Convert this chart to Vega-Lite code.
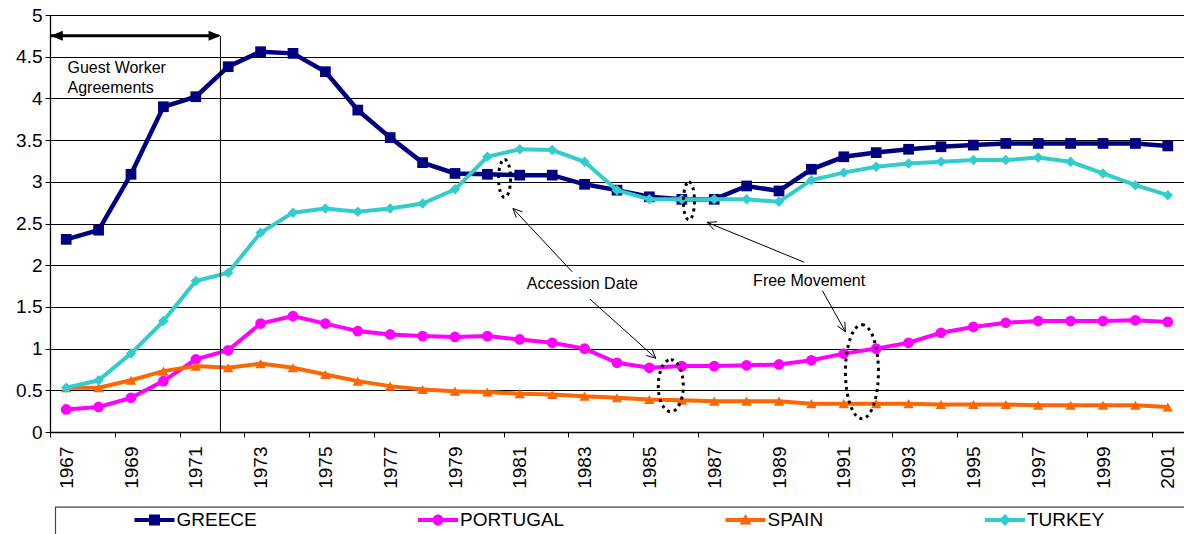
{
"$schema": "https://vega.github.io/schema/vega-lite/v6.json",
"width": 1134, "height": 417,
"autosize": {"type": "none"},
"padding": {"left": 50, "top": 15, "right": 0, "bottom": 102},
"background": "white",
"config": {"view": {"stroke": null}, "font": "Liberation Sans"},
"datasets": {
"series": [
{"country":"GREECE","year":1967,"value":2.31},{"country":"GREECE","year":1968,"value":2.42},{"country":"GREECE","year":1969,"value":3.09},{"country":"GREECE","year":1970,"value":3.90},{"country":"GREECE","year":1971,"value":4.02},{"country":"GREECE","year":1972,"value":4.38},{"country":"GREECE","year":1973,"value":4.56},{"country":"GREECE","year":1974,"value":4.54},{"country":"GREECE","year":1975,"value":4.32},{"country":"GREECE","year":1976,"value":3.86},{"country":"GREECE","year":1977,"value":3.53},{"country":"GREECE","year":1978,"value":3.23},{"country":"GREECE","year":1979,"value":3.10},{"country":"GREECE","year":1980,"value":3.09},{"country":"GREECE","year":1981,"value":3.08},{"country":"GREECE","year":1982,"value":3.08},{"country":"GREECE","year":1983,"value":2.97},{"country":"GREECE","year":1984,"value":2.90},{"country":"GREECE","year":1985,"value":2.82},{"country":"GREECE","year":1986,"value":2.79},{"country":"GREECE","year":1987,"value":2.79},{"country":"GREECE","year":1988,"value":2.95},{"country":"GREECE","year":1989,"value":2.89},{"country":"GREECE","year":1990,"value":3.15},{"country":"GREECE","year":1991,"value":3.30},{"country":"GREECE","year":1992,"value":3.35},{"country":"GREECE","year":1993,"value":3.39},{"country":"GREECE","year":1994,"value":3.42},{"country":"GREECE","year":1995,"value":3.44},{"country":"GREECE","year":1996,"value":3.46},{"country":"GREECE","year":1997,"value":3.46},{"country":"GREECE","year":1998,"value":3.46},{"country":"GREECE","year":1999,"value":3.46},{"country":"GREECE","year":2000,"value":3.46},{"country":"GREECE","year":2001,"value":3.43},
{"country":"PORTUGAL","year":1967,"value":0.27},{"country":"PORTUGAL","year":1968,"value":0.30},{"country":"PORTUGAL","year":1969,"value":0.41},{"country":"PORTUGAL","year":1970,"value":0.61},{"country":"PORTUGAL","year":1971,"value":0.87},{"country":"PORTUGAL","year":1972,"value":0.98},{"country":"PORTUGAL","year":1973,"value":1.30},{"country":"PORTUGAL","year":1974,"value":1.39},{"country":"PORTUGAL","year":1975,"value":1.30},{"country":"PORTUGAL","year":1976,"value":1.21},{"country":"PORTUGAL","year":1977,"value":1.17},{"country":"PORTUGAL","year":1978,"value":1.15},{"country":"PORTUGAL","year":1979,"value":1.14},{"country":"PORTUGAL","year":1980,"value":1.15},{"country":"PORTUGAL","year":1981,"value":1.11},{"country":"PORTUGAL","year":1982,"value":1.07},{"country":"PORTUGAL","year":1983,"value":1.00},{"country":"PORTUGAL","year":1984,"value":0.83},{"country":"PORTUGAL","year":1985,"value":0.77},{"country":"PORTUGAL","year":1986,"value":0.79},{"country":"PORTUGAL","year":1987,"value":0.79},{"country":"PORTUGAL","year":1988,"value":0.80},{"country":"PORTUGAL","year":1989,"value":0.81},{"country":"PORTUGAL","year":1990,"value":0.86},{"country":"PORTUGAL","year":1991,"value":0.94},{"country":"PORTUGAL","year":1992,"value":1.00},{"country":"PORTUGAL","year":1993,"value":1.07},{"country":"PORTUGAL","year":1994,"value":1.19},{"country":"PORTUGAL","year":1995,"value":1.26},{"country":"PORTUGAL","year":1996,"value":1.31},{"country":"PORTUGAL","year":1997,"value":1.33},{"country":"PORTUGAL","year":1998,"value":1.33},{"country":"PORTUGAL","year":1999,"value":1.33},{"country":"PORTUGAL","year":2000,"value":1.34},{"country":"PORTUGAL","year":2001,"value":1.32},
{"country":"SPAIN","year":1967,"value":0.53},{"country":"SPAIN","year":1968,"value":0.53},{"country":"SPAIN","year":1969,"value":0.62},{"country":"SPAIN","year":1970,"value":0.73},{"country":"SPAIN","year":1971,"value":0.79},{"country":"SPAIN","year":1972,"value":0.77},{"country":"SPAIN","year":1973,"value":0.82},{"country":"SPAIN","year":1974,"value":0.77},{"country":"SPAIN","year":1975,"value":0.69},{"country":"SPAIN","year":1976,"value":0.61},{"country":"SPAIN","year":1977,"value":0.55},{"country":"SPAIN","year":1978,"value":0.51},{"country":"SPAIN","year":1979,"value":0.49},{"country":"SPAIN","year":1980,"value":0.48},{"country":"SPAIN","year":1981,"value":0.46},{"country":"SPAIN","year":1982,"value":0.45},{"country":"SPAIN","year":1983,"value":0.43},{"country":"SPAIN","year":1984,"value":0.41},{"country":"SPAIN","year":1985,"value":0.39},{"country":"SPAIN","year":1986,"value":0.38},{"country":"SPAIN","year":1987,"value":0.37},{"country":"SPAIN","year":1988,"value":0.37},{"country":"SPAIN","year":1989,"value":0.37},{"country":"SPAIN","year":1990,"value":0.34},{"country":"SPAIN","year":1991,"value":0.34},{"country":"SPAIN","year":1992,"value":0.34},{"country":"SPAIN","year":1993,"value":0.34},{"country":"SPAIN","year":1994,"value":0.33},{"country":"SPAIN","year":1995,"value":0.33},{"country":"SPAIN","year":1996,"value":0.33},{"country":"SPAIN","year":1997,"value":0.32},{"country":"SPAIN","year":1998,"value":0.32},{"country":"SPAIN","year":1999,"value":0.32},{"country":"SPAIN","year":2000,"value":0.32},{"country":"SPAIN","year":2001,"value":0.30},
{"country":"TURKEY","year":1967,"value":0.53},{"country":"TURKEY","year":1968,"value":0.62},{"country":"TURKEY","year":1969,"value":0.94},{"country":"TURKEY","year":1970,"value":1.33},{"country":"TURKEY","year":1971,"value":1.81},{"country":"TURKEY","year":1972,"value":1.91},{"country":"TURKEY","year":1973,"value":2.39},{"country":"TURKEY","year":1974,"value":2.63},{"country":"TURKEY","year":1975,"value":2.68},{"country":"TURKEY","year":1976,"value":2.64},{"country":"TURKEY","year":1977,"value":2.68},{"country":"TURKEY","year":1978,"value":2.74},{"country":"TURKEY","year":1979,"value":2.91},{"country":"TURKEY","year":1980,"value":3.30},{"country":"TURKEY","year":1981,"value":3.39},{"country":"TURKEY","year":1982,"value":3.38},{"country":"TURKEY","year":1983,"value":3.24},{"country":"TURKEY","year":1984,"value":2.90},{"country":"TURKEY","year":1985,"value":2.79},{"country":"TURKEY","year":1986,"value":2.79},{"country":"TURKEY","year":1987,"value":2.79},{"country":"TURKEY","year":1988,"value":2.79},{"country":"TURKEY","year":1989,"value":2.76},{"country":"TURKEY","year":1990,"value":3.02},{"country":"TURKEY","year":1991,"value":3.11},{"country":"TURKEY","year":1992,"value":3.18},{"country":"TURKEY","year":1993,"value":3.22},{"country":"TURKEY","year":1994,"value":3.24},{"country":"TURKEY","year":1995,"value":3.26},{"country":"TURKEY","year":1996,"value":3.26},{"country":"TURKEY","year":1997,"value":3.29},{"country":"TURKEY","year":1998,"value":3.24},{"country":"TURKEY","year":1999,"value":3.10},{"country":"TURKEY","year":2000,"value":2.96},{"country":"TURKEY","year":2001,"value":2.84}
],
"segments": [
{"x":1971.76,"y":0,"x2":1971.76,"y2":4.75},
{"x":1982.62,"y":1.92,"x2":1980.79,"y2":2.68},
{"x":1980.79,"y":2.68,"x2":1980.89,"y2":2.57},
{"x":1980.79,"y":2.68,"x2":1981.08,"y2":2.64},
{"x":1983.16,"y":1.595,"x2":1985.20,"y2":0.884},
{"x":1985.20,"y":0.884,"x2":1985.08,"y2":0.994},
{"x":1985.20,"y":0.884,"x2":1984.90,"y2":0.918},
{"x":1989.78,"y":2.035,"x2":1986.78,"y2":2.514},
{"x":1986.78,"y":2.514,"x2":1986.99,"y2":2.426},
{"x":1986.78,"y":2.514,"x2":1987.09,"y2":2.52},
{"x":1990.34,"y":1.694,"x2":1991.05,"y2":1.203},
{"x":1991.05,"y":1.203,"x2":1991.03,"y2":1.323},
{"x":1991.05,"y":1.203,"x2":1990.80,"y2":1.272}
],
"ellipses": [
{"id":"E1","x":1980.53,"y":3.04},
{"id":"E2","x":1986.22,"y":2.77},
{"id":"E3","x":1985.66,"y":0.555},
{"id":"E4","x":1991.56,"y":0.723}
],
"notes": [
{"label":"Accession Date","x":1982.93,"y":1.78,"anchor":"center"},
{"label":"Free Movement","x":1989.93,"y":1.81,"anchor":"center"},
{"label":"Guest Worker","x":1967.04,"y":4.37,"anchor":"left"},
{"label":"Agreements","x":1967.04,"y":4.125,"anchor":"left"}
]
},
"layer": [
{
"data": {"name": "series"},
"transform": [{"filter": "datum.country == 'GREECE'"}],
"mark": {"type": "line", "strokeWidth": 4.5, "color": "#000080", "point": {"shape": "square", "filled": true, "opacity": 1, "size": 115, "strokeWidth": 0, "color": "#000080"}},
"encoding": {
"x": {"field": "year", "type": "quantitative", "scale": {"domain": [1966.5, 2001.5], "nice": false, "zero": false},
"axis": {"values": [1966.5,1967.5,1968.5,1969.5,1970.5,1971.5,1972.5,1973.5,1974.5,1975.5,1976.5,1977.5,1978.5,1979.5,1980.5,1981.5,1982.5,1983.5,1984.5,1985.5,1986.5,1987.5,1988.5,1989.5,1990.5,1991.5,1992.5,1993.5,1994.5,1995.5,1996.5,1997.5,1998.5,1999.5,2000.5,2001.5],
"labelExpr": "(datum.value + 0.5) % 2 == 1 ? toString(datum.value + 0.5) : ''",
"labelAngle": 270, "labelOffset": 16.2, "labelOverlap": false, "labelFlush": false, "labelBound": false,
"grid": false, "domainColor": "#000", "domainWidth": 1.3, "tickColor": "#000", "tickSize": 5, "tickWidth": 1,
"labelFontSize": 19, "labelColor": "#000", "labelPadding": 9, "title": null}},
"y": {"field": "value", "type": "quantitative", "scale": {"domain": [0, 5], "nice": false},
"axis": {"values": [0,0.5,1,1.5,2,2.5,3,3.5,4,4.5,5], "format": ".1~f", "grid": true, "gridColor": "#000", "gridWidth": 1, "gridOpacity": 1,
"domainColor": "#000", "domainWidth": 1.3, "tickColor": "#000", "tickSize": 5, "labelFontSize": 19, "labelColor": "#000", "labelPadding": 3, "title": null}}
}
},
{
"data": {"name": "series"},
"transform": [{"filter": "datum.country == 'PORTUGAL'"}],
"mark": {"type": "line", "strokeWidth": 4, "color": "#FF00FF", "point": {"shape": "circle", "filled": true, "opacity": 1, "size": 115, "strokeWidth": 0, "color": "#FF00FF"}},
"encoding": {"x": {"field": "year", "type": "quantitative"}, "y": {"field": "value", "type": "quantitative"}}
},
{
"data": {"name": "series"},
"transform": [{"filter": "datum.country == 'SPAIN'"}],
"mark": {"type": "line", "strokeWidth": 4, "color": "#FF6600", "point": {"shape": "triangle-up", "filled": true, "opacity": 1, "size": 110, "strokeWidth": 0, "color": "#FF6600"}},
"encoding": {"x": {"field": "year", "type": "quantitative"}, "y": {"field": "value", "type": "quantitative"}}
},
{
"data": {"name": "series"},
"transform": [{"filter": "datum.country == 'TURKEY'"}],
"mark": {"type": "line", "strokeWidth": 4, "color": "#33CCCC", "point": {"shape": "diamond", "filled": true, "opacity": 1, "size": 110, "strokeWidth": 0, "color": "#33CCCC"}},
"encoding": {"x": {"field": "year", "type": "quantitative"}, "y": {"field": "value", "type": "quantitative"}}
},
{
"data": {"name": "series"},
"transform": [{"filter": "datum.value > 99"}],
"mark": {"type": "point", "filled": true, "opacity": 1, "size": 400, "strokeWidth": 0},
"encoding": {
"x": {"field": "year", "type": "quantitative"},
"y": {"field": "value", "type": "quantitative"},
"color": {"field": "country", "type": "nominal",
"scale": {"domain": ["GREECE","PORTUGAL","SPAIN","TURKEY"], "range": ["#000080","#FF00FF","#FF6600","#33CCCC"]},
"legend": {"orient": "none", "legendX": 5, "legendY": 495, "direction": "horizontal", "columns": 4, "title": null, "labelFontSize": 19, "labelColor": "#000", "labelFont": "Liberation Sans", "symbolSize": 400, "symbolOffset": 79.5, "labelOffset": 22, "columnPadding": 81.5, "padding": 0, "gridAlign": "each", "symbolStrokeWidth": 0}},
"shape": {"field": "country", "type": "nominal",
"scale": {"domain": ["GREECE","PORTUGAL","SPAIN","TURKEY"], "range": [
"M-1,-0.2H3V0.2H-1Z M0.45,-0.55H1.55V0.55H0.45Z",
"M-1,-0.2H3V0.2H-1Z M0.45,0A0.55,0.55 0 1,1 1.55,0A0.55,0.55 0 1,1 0.45,0Z",
"M-1,-0.2H3V0.2H-1Z M1,-0.6L1.6,0.45H0.4Z",
"M-1,-0.2H3V0.2H-1Z M1,-0.6L1.6,0L1,0.6L0.4,0Z"]},
"legend": {"orient": "none", "legendX": 5, "legendY": 495, "direction": "horizontal", "columns": 4, "title": null, "labelFontSize": 19, "labelColor": "#000", "labelFont": "Liberation Sans", "symbolSize": 400, "symbolOffset": 79.5, "labelOffset": 22, "columnPadding": 81.5, "padding": 0, "gridAlign": "each", "symbolStrokeWidth": 0}}
}
},
{
"data": {"values": [{"x": 1966.52, "x2": 1971.7, "y": 4.75}]},
"mark": {"type": "rule", "strokeWidth": 3, "color": "#000"},
"encoding": {"x": {"field": "x", "type": "quantitative"}, "x2": {"field": "x2"}, "y": {"field": "y", "type": "quantitative"}}
},
{
"data": {"values": [{"x": 1966.71, "y": 4.75}]},
"mark": {"type": "point", "shape": "M-1,0L1,-0.83L1,0.83Z", "size": 144, "filled": true, "opacity": 1, "color": "#000", "strokeWidth": 0},
"encoding": {"x": {"field": "x", "type": "quantitative"}, "y": {"field": "y", "type": "quantitative"}}
},
{
"data": {"values": [{"x": 1971.58, "y": 4.75}]},
"mark": {"type": "point", "shape": "M1,0L-1,-0.83L-1,0.83Z", "size": 144, "filled": true, "opacity": 1, "color": "#000", "strokeWidth": 0},
"encoding": {"x": {"field": "x", "type": "quantitative"}, "y": {"field": "y", "type": "quantitative"}}
},
{
"data": {"name": "segments"},
"mark": {"type": "rule", "strokeWidth": 1, "color": "#000"},
"encoding": {"x": {"field": "x", "type": "quantitative"}, "y": {"field": "y", "type": "quantitative"}, "x2": {"field": "x2"}, "y2": {"field": "y2"}}
},
{
"data": {"name": "ellipses"},
"transform": [{"filter": "datum.id == 'E1'"}],
"mark": {"type": "point", "shape": "M0,-1.9A0.6,1.9 0 1,1 0,1.9A0.6,1.9 0 1,1 0,-1.9Z", "size": 400, "filled": false, "opacity": 1, "stroke": "#000", "strokeWidth": 3, "strokeDash": [3, 4]},
"encoding": {"x": {"field": "x", "type": "quantitative"}, "y": {"field": "y", "type": "quantitative"}}
},
{
"data": {"name": "ellipses"},
"transform": [{"filter": "datum.id == 'E2'"}],
"mark": {"type": "point", "shape": "M0,-1.9A0.55,1.9 0 1,1 0,1.9A0.55,1.9 0 1,1 0,-1.9Z", "size": 400, "filled": false, "opacity": 1, "stroke": "#000", "strokeWidth": 3, "strokeDash": [3, 4]},
"encoding": {"x": {"field": "x", "type": "quantitative"}, "y": {"field": "y", "type": "quantitative"}}
},
{
"data": {"name": "ellipses"},
"transform": [{"filter": "datum.id == 'E3'"}],
"mark": {"type": "point", "shape": "M0,-2.6A1.25,2.6 0 1,1 0,2.6A1.25,2.6 0 1,1 0,-2.6Z", "size": 400, "filled": false, "opacity": 1, "stroke": "#000", "strokeWidth": 3, "strokeDash": [3, 4]},
"encoding": {"x": {"field": "x", "type": "quantitative"}, "y": {"field": "y", "type": "quantitative"}}
},
{
"data": {"name": "ellipses"},
"transform": [{"filter": "datum.id == 'E4'"}],
"mark": {"type": "point", "shape": "M0,-4.7A1.65,4.7 0 1,1 0,4.7A1.65,4.7 0 1,1 0,-4.7Z", "size": 400, "filled": false, "opacity": 1, "stroke": "#000", "strokeWidth": 3, "strokeDash": [3, 4]},
"encoding": {"x": {"field": "x", "type": "quantitative"}, "y": {"field": "y", "type": "quantitative"}}
},
{
"data": {"name": "notes"},
"transform": [{"filter": "datum.anchor == 'center'"}],
"mark": {"type": "text", "fontSize": 16, "color": "#000", "align": "center", "baseline": "middle"},
"encoding": {"x": {"field": "x", "type": "quantitative"}, "y": {"field": "y", "type": "quantitative"}, "text": {"field": "label"}}
},
{
"data": {"name": "notes"},
"transform": [{"filter": "datum.anchor == 'left'"}],
"mark": {"type": "text", "fontSize": 16, "color": "#000", "align": "left", "baseline": "middle"},
"encoding": {"x": {"field": "x", "type": "quantitative"}, "y": {"field": "y", "type": "quantitative"}, "text": {"field": "label"}}
},
{
"data": {"values": [{"x": 1966.67, "x2": 2003.5, "y": -0.9, "y2": -2.5}]},
"mark": {"type": "rect", "filled": false, "stroke": "#444", "strokeWidth": 1.2, "clip": false},
"encoding": {"x": {"field": "x", "type": "quantitative"}, "x2": {"field": "x2"}, "y": {"field": "y", "type": "quantitative"}, "y2": {"field": "y2"}}
}
]
}
